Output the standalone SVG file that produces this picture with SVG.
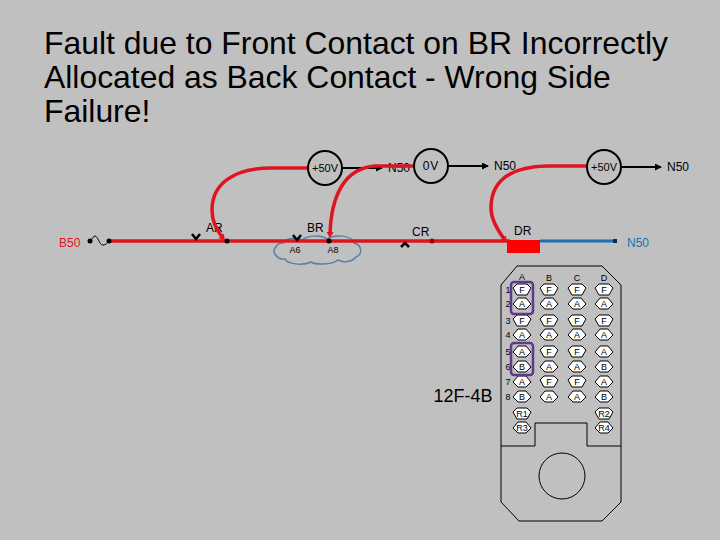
<svg xmlns="http://www.w3.org/2000/svg" width="720" height="540" viewBox="0 0 720 540">
<style>
text{font-family:"Liberation Sans",Arial,sans-serif;fill:#000}
.t{font-size:31.900px}
.l{font-size:12px}
.v{font-size:11px}
.s{font-size:9px}
.m{text-anchor:middle}
.c{fill:none;stroke:#000;stroke-width:2}
.w{fill:none;stroke:#e0141e;stroke-width:3.500}
.b{stroke:#000;stroke-width:2;fill:none}
.o{fill:none;stroke:#000;stroke-width:1}
.h{fill:none;stroke:#5f3a8a;stroke-width:2.500}
.x{fill:none;stroke:#000;stroke-width:2.500}
.F,.A{fill:#fff;stroke:#000;stroke-width:1}
</style>
<defs>
<marker id="a" markerWidth="8" markerHeight="8" refX="6" refY="3.500" orient="auto" markerUnits="userSpaceOnUse"><path d="M0 0L7 3.500L0 7z" fill="#000"/></marker>
<marker id="r" markerWidth="8" markerHeight="8" refX="3" refY="3.500" orient="auto" markerUnits="userSpaceOnUse"><path d="M0 0L6 3.500L0 7z" fill="#e8101a"/></marker>
<path id="f" class="F" d="M-9 -2L-5 -6H5L9 -2L5 5H-5z"/>
<path id="g" class="A" d="M-9 0L-4 -6H4L9 0L4 5H-4z"/>
</defs>
<rect width="720" height="540" fill="#c0c0c0"/>
<g id="title"><text class="t" x="44" y="54">Fault due to Front Contact on BR Incorrectly</text><text class="t" x="44" y="88">Allocated as Back Contact - Wrong Side</text><text class="t" x="44" y="122">Failure!</text></g>
<g id="labels"><text class="l" x="388" y="172">N50</text><text class="l" x="494" y="170">N50</text><text class="l" x="667" y="171">N50</text>
<text class="l" x="59" y="247" style="fill:#e0141e">B50</text><text class="l" x="627" y="247" style="fill:#1f6fb0">N50</text>
<text class="l" x="206" y="232">AR</text><text class="l" x="307" y="232">BR</text><text class="l" x="412" y="236">CR</text><text class="l" x="514" y="235">DR</text></g>
<g id="cloud"><path d="M283 243C286 238 296 237 302 240C308 235 322 235 327 239C334 234 352 235 354 243C362 245 363 254 356 257C352 262 343 263 338 260C331 265 316 265 311 262C303 266 287 264 285 259C276 260 271 250 276 247C277 244 280 243 283 243z" fill="none" stroke="#5a7fa5" stroke-width="1.500"/><text class="s m" x="295" y="253">A6</text><text class="s m" x="333" y="253">A8</text></g>
<g id="connectors">
<path d="M91 241C92 238 94 236 95 236C98 236 99 245 103 245C106 245 107 243 109 241" fill="none" stroke="#000"/>
<path class="w" d="M107 241H510"/>
<path d="M540 241H615" fill="none" stroke="#1f6fb0" stroke-width="3"/>
<path class="b" marker-end="url(#a)" d="M342 168H382"/>
<path class="b" marker-end="url(#a)" d="M448 166H488"/>
<path class="b" marker-end="url(#a)" d="M622 167H661"/>
<path class="w" marker-end="url(#r)" d="M308 168H272C232 168 212 185 212 210C212 222 217 231 223 238"/>
<path class="w" marker-end="url(#r)" d="M415 166H375C345 168 331 195 330 235"/>
<path class="w" marker-end="url(#r)" d="M587 166H547C505 167 491 185 491 208C491 220 498 231 505 240"/>
</g>
<g id="contacts">
<circle cx="90" cy="241" r="2.500"/><circle cx="109" cy="241" r="2.500"/>
<path class="x" d="M192 234L196 239L200 234"/><circle cx="227" cy="241" r="2.500"/>
<path class="x" d="M293 235L297 240L301 235"/><circle cx="329" cy="241" r="2.500"/>
<path class="x" d="M401 247L405 243L409 247"/><circle cx="432" cy="241" r="2.500" fill="#900"/>
<rect x="613" y="239" width="4" height="4" fill="#0a2a50"/>
</g>
<g id="n1"><circle class="c" cx="325" cy="168" r="17"/><text class="v m" x="325" y="172">+50V</text></g>
<g id="n2"><circle class="c" cx="431" cy="166" r="17"/><text class="l m" x="431" y="170" letter-spacing="1">0V</text></g>
<g id="n3"><circle class="c" cx="604" cy="167" r="17"/><text class="v m" x="604" y="171">+50V</text></g>
<g id="dr"><rect x="507" y="240" width="33" height="13" fill="#f00"/></g>
<g id="relay">
<path class="o" d="M501 285L517 266H602L621 285V502L602 521H519L501 502Z"/>
<path class="o" d="M501 446H535V423H587V446H621"/>
<circle class="o" cx="562" cy="476" r="23"/>
<text x="463" y="402" class="m" style="font-size:18px">12F-4B</text>
<g class="s m"><text x="522" y="280">A</text><text x="549" y="281">B</text><text x="577" y="281">C</text><text x="604" y="281">D</text>
<text x="508" y="293">1</text><text x="508" y="307">2</text><text x="508" y="324">3</text><text x="508" y="338">4</text><text x="508" y="355">5</text><text x="508" y="370">6</text><text x="508" y="385">7</text><text x="508" y="400">8</text></g>
<use href="#f" x="522" y="290"/><use href="#f" x="549" y="290"/><use href="#f" x="577" y="290"/><use href="#f" x="604" y="290"/>
<use href="#g" x="522" y="304"/><use href="#g" x="549" y="304"/><use href="#g" x="577" y="304"/><use href="#g" x="604" y="304"/>
<use href="#f" x="522" y="321"/><use href="#f" x="549" y="321"/><use href="#f" x="577" y="321"/><use href="#f" x="604" y="321"/>
<use href="#g" x="522" y="335"/><use href="#g" x="549" y="335"/><use href="#g" x="577" y="335"/><use href="#g" x="604" y="335"/>
<use href="#g" x="522" y="352"/><use href="#f" x="549" y="352"/><use href="#f" x="577" y="352"/><use href="#g" x="604" y="352"/>
<use href="#g" x="522" y="367"/><use href="#g" x="549" y="367"/><use href="#g" x="577" y="367"/><use href="#g" x="604" y="367"/>
<use href="#g" x="522" y="382"/><use href="#f" x="549" y="382"/><use href="#f" x="577" y="382"/><use href="#g" x="604" y="382"/>
<use href="#g" x="522" y="397"/><use href="#g" x="549" y="397"/><use href="#g" x="577" y="397"/><use href="#g" x="604" y="397"/>
<use href="#f" x="522" y="414"/><use href="#f" x="604" y="414"/><use href="#g" x="522" y="428"/><use href="#g" x="604" y="428"/>
<g class="s m">
<text x="522" y="293">F</text><text x="549" y="293">F</text><text x="577" y="293">F</text><text x="604" y="293">F</text>
<text x="522" y="307">A</text><text x="549" y="307">A</text><text x="577" y="307">A</text><text x="604" y="307">A</text>
<text x="522" y="324">F</text><text x="549" y="324">F</text><text x="577" y="324">F</text><text x="604" y="324">F</text>
<text x="522" y="338">A</text><text x="549" y="338">A</text><text x="577" y="338">A</text><text x="604" y="338">A</text>
<text x="522" y="355">A</text><text x="549" y="355">F</text><text x="577" y="355">F</text><text x="604" y="355">A</text>
<text x="522" y="370">B</text><text x="549" y="370">A</text><text x="577" y="370">A</text><text x="604" y="370">B</text>
<text x="522" y="385">A</text><text x="549" y="385">F</text><text x="577" y="385">F</text><text x="604" y="385">A</text>
<text x="522" y="400">B</text><text x="549" y="400">A</text><text x="577" y="400">A</text><text x="604" y="400">B</text>
<text x="522" y="417">R1</text><text x="604" y="417">R2</text><text x="522" y="431">R3</text><text x="604" y="431">R4</text>
</g>
<rect class="h" x="511" y="282" width="22" height="32" rx="3"/>
<rect class="h" x="511" y="343" width="22" height="32" rx="3"/>
</g>
</svg>
